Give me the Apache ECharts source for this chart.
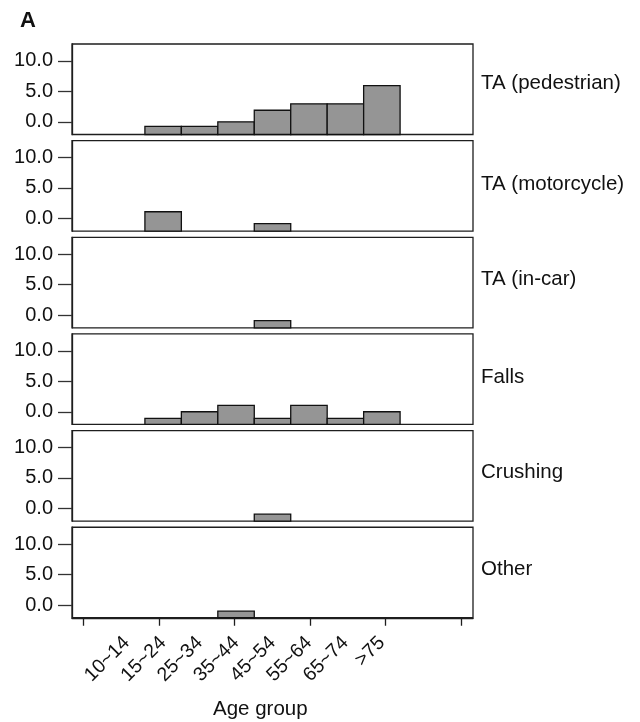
<!DOCTYPE html>
<html><head><meta charset="utf-8">
<script src="https://cdn.jsdelivr.net/npm/echarts@6/dist/echarts.min.js"></script>
<style>html,body{margin:0;padding:0;background:#fff}#c{width:640px;height:722px}</style>
</head><body><div id="c"></div>
<script>
// bins across the panel (11 bins; empty names are unlabelled bins)
const categories = ['', '10~14', '15~24', '25~34', '35~44', '45~54', '55~64', '65~74', '>75', '', ''];
const panelNames = ['TA (pedestrian)', 'TA (motorcycle)', 'TA (in-car)', 'Falls', 'Crushing', 'Other'];
const pedestrian = [null, null, -0.75, -0.75, 0.0, 1.9, 2.95, 2.95, 5.95, null, null];
const motorcycle = [null, null, 1.1, null, null, -0.85, null, null, null, null, null];
const inCar      = [null, null, null, null, null, -0.9, null, null, null, null, null];
const falls      = [null, null, -1.1, 0.0, 1.05, -1.1, 1.05, -1.1, 0.0, null, null];
const crushing   = [null, null, null, null, null, -0.95, null, null, null, null, null];
const other      = [null, null, null, null, -1.0, null, null, null, null, null, null];
const yTickValues = [0, 5, 10];
const xTickValues = [0.31, 2.39, 4.46, 6.53, 8.6, 10.68];
const Y_MIN = -2.08, Y_MAX = 12.76;

const seriesData = [pedestrian, motorcycle, inCar, falls, crushing, other];
const chart = echarts.init(document.getElementById('c'), null, {renderer: 'canvas'});
const FONT = 'Liberation Sans, Arial, sans-serif';
const panelTop = 44, panelStep = 96.65, panelH = 90.5, left = 72, right = 640 - 473;
const grids = [], xAxes = [], yAxes = [], series = [], graphics = [];
const labelY = [85, 186, 281, 379, 474, 571];
seriesData.forEach((arr, k) => {
  const isLast = k === seriesData.length - 1;
  grids.push({left: left, right: right, top: panelTop + k * panelStep, height: panelH,
    show: true, borderColor: '#1e1e1e', borderWidth: 1.3, backgroundColor: 'transparent'});
  xAxes.push({type: 'value', gridIndex: k, min: 0, max: categories.length,
    splitLine: {show: false},
    axisLine: {show: isLast, onZero: false, lineStyle: {color: '#1e1e1e', width: 1.3}},
    axisTick: {show: isLast, length: 8, customValues: xTickValues, lineStyle: {color: '#1e1e1e', width: 1.3}},
    axisLabel: {show: isLast, customValues: categories.map((c, i) => i + 0.5).filter((v, i) => categories[i] !== ''),
      rotate: 45, margin: 22, color: '#111', fontFamily: FONT, fontSize: 19.5,
      formatter: v => categories[Math.floor(v)]}
  });
  yAxes.push({type: 'value', gridIndex: k, min: Y_MIN, max: Y_MAX,
    splitLine: {show: false},
    axisLine: {show: true, onZero: false, lineStyle: {color: '#1e1e1e', width: 1.3}},
    axisTick: {show: true, length: 14, customValues: yTickValues, lineStyle: {color: '#333', width: 1.3}},
    axisLabel: {customValues: yTickValues, margin: 19, color: '#111', fontFamily: FONT, fontSize: 20,
      formatter: v => v.toFixed(1)}
  });
  series.push({type: 'custom', xAxisIndex: k, yAxisIndex: k,
    data: arr.map((v, i) => v === null ? null : [i, v]).filter(d => d),
    renderItem: (params, api) => {
      const i = api.value(0), v = api.value(1);
      const p0 = api.coord([i, Y_MIN]);
      const p1 = api.coord([i + 1, v]);
      return {type: 'rect',
        shape: {x: p0[0], y: p1[1], width: p1[0] - p0[0], height: p0[1] - p1[1]},
        style: {fill: '#959595', stroke: '#111', lineWidth: 1.3}};
    }
  });
  graphics.push({type: 'text', left: 481, top: labelY[k] - 12,
    style: {text: panelNames[k], fill: '#111', font: '20.5px ' + FONT}});
});
graphics.push({type: 'text', left: 20, top: 10, style: {text: 'A', fill: '#111', font: 'bold 22px ' + FONT}});
graphics.push({type: 'text', left: 213, top: 699, style: {text: 'Age group', fill: '#111', font: '20.5px ' + FONT}});

chart.setOption({animation: false, grid: grids, xAxis: xAxes, yAxis: yAxes, series: series, graphic: graphics});
</script></body></html>
